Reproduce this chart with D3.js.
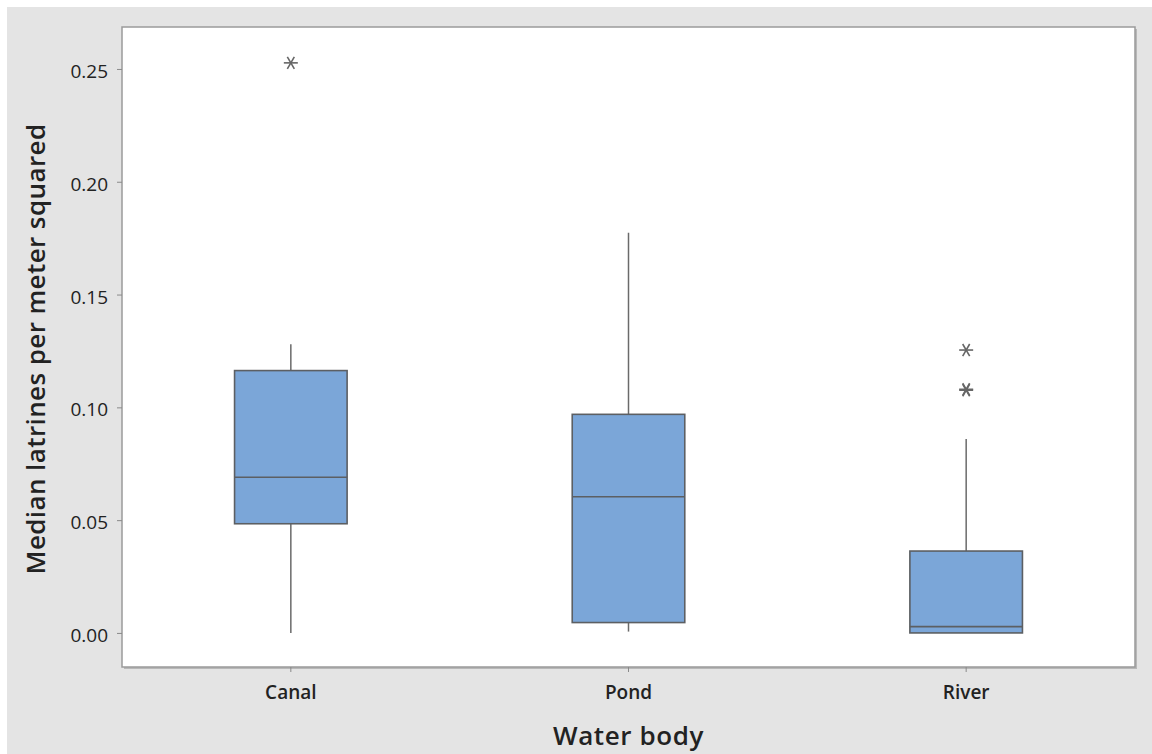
<!DOCTYPE html>
<html>
<head>
<meta charset="utf-8">
<script src="https://cdn.jsdelivr.net/npm/d3@7"></script>
<style>
  html, body { margin: 0; padding: 0; background: #ffffff; }
  svg { display: block; }
  text { font-family: "Open Sans", "Noto Sans", sans-serif; fill: #222; }
</style>
</head>
<body>
<svg id="chart" width="1152" height="754"></svg>
<script>
// Water body categories and their box-plot summaries
const categories = ["Canal", "Pond", "River"];
const whiskerLow  = [0.0000, 0.0006, 0.0000];
const q1          = [0.0484, 0.0046, 0.0000];
const median      = [0.0690, 0.0604, 0.0028];
const q3          = [0.1163, 0.0969, 0.0363];
const whiskerHigh = [0.1280, 0.1774, 0.0860];
// Outliers per category
const outliers = [
  [0.2527],
  [],
  [0.1254, 0.1076, 0.1080]
];
const yTicks = [0.00, 0.05, 0.10, 0.15, 0.20, 0.25];

const svg = d3.select("#chart");
const W = 1152, H = 754;
const frame = { left: 122, top: 27, right: 1135, bottom: 667 };

// Outer gray panel
svg.append("rect").attr("x", 7).attr("y", 7).attr("width", W - 7).attr("height", H - 7)
  .attr("fill", "#e4e4e4");

const x = d3.scaleBand().domain(categories).range([frame.left, frame.right]).padding(0);
const y = d3.scaleLinear().domain([-0.0151, 0.2686]).range([frame.bottom, frame.top]);

// Plot area with a soft shadow on right / bottom edges
svg.append("rect").attr("x", frame.left + 2).attr("y", frame.top + 2)
  .attr("width", frame.right - frame.left).attr("height", frame.bottom - frame.top)
  .attr("fill", "#b8b8b8");
svg.append("rect").attr("x", frame.left).attr("y", frame.top)
  .attr("width", frame.right - frame.left).attr("height", frame.bottom - frame.top)
  .attr("fill", "#ffffff").attr("stroke", "#9a9a9a").attr("stroke-width", 1.5);

// Axes
const yAxis = d3.axisLeft(y).tickValues(yTicks).tickFormat(d3.format(".2f"))
  .tickSize(5).tickPadding(9);
const gy = svg.append("g").attr("transform", `translate(${frame.left},0)`).call(yAxis);
gy.select(".domain").remove();
gy.selectAll(".tick line").attr("stroke", "#8a8a8a");
gy.selectAll(".tick text").style("font-size", "19px").style("font-family", "'Open Sans', sans-serif")
  .attr("dy", "0.45em").attr("fill", "#222");

const xAxis = d3.axisBottom(x).tickSize(5).tickPadding(14);
const gx = svg.append("g").attr("transform", `translate(0,${frame.bottom})`).call(xAxis);
gx.select(".domain").remove();
gx.selectAll(".tick line").attr("stroke", "#8a8a8a");
gx.selectAll(".tick text").style("font-size", "19px").style("font-family", "'Open Sans', sans-serif")
  .style("font-weight", "600").attr("fill", "#222");

// Axis titles
svg.append("text")
  .attr("transform", `translate(45,${(frame.top + frame.bottom) / 2 + 2}) rotate(-90)`)
  .attr("text-anchor", "middle")
  .style("font-size", "26px")
  .style("font-weight", "600")
  .style("letter-spacing", "0.4px")
  .text("Median latrines per meter squared");
svg.append("text")
  .attr("x", (frame.left + frame.right) / 2).attr("y", 745)
  .attr("text-anchor", "middle")
  .style("font-size", "26px")
  .style("font-weight", "600")
  .style("letter-spacing", "0.6px")
  .text("Water body");

// Boxes
const boxW = x.bandwidth() / 3;
const stroke = "#5c5f63";
categories.forEach((c, i) => {
  const cx = x(c) + x.bandwidth() / 2;
  const g = svg.append("g");
  // whiskers
  g.append("line").attr("x1", cx).attr("x2", cx)
    .attr("y1", y(q3[i])).attr("y2", y(whiskerHigh[i]))
    .attr("stroke", "#6a6a6a").attr("stroke-width", 1.5);
  g.append("line").attr("x1", cx).attr("x2", cx)
    .attr("y1", y(q1[i])).attr("y2", y(whiskerLow[i]))
    .attr("stroke", "#6a6a6a").attr("stroke-width", 1.5);
  // box
  g.append("rect").attr("x", cx - boxW / 2).attr("y", y(q3[i]))
    .attr("width", boxW).attr("height", y(q1[i]) - y(q3[i]))
    .attr("fill", "#7ba6d8").attr("stroke", stroke).attr("stroke-width", 1.6);
  // median
  g.append("line").attr("x1", cx - boxW / 2).attr("x2", cx + boxW / 2)
    .attr("y1", y(median[i])).attr("y2", y(median[i]))
    .attr("stroke", stroke).attr("stroke-width", 1.6);
  // outliers as asterisks
  outliers[i].forEach(v => {
    const star = g.append("g").attr("transform", `translate(${cx},${y(v)})`);
    [0, 60, 120].forEach(a => {
      star.append("line")
        .attr("x1", -7).attr("y1", 0).attr("x2", 7).attr("y2", 0)
        .attr("transform", `rotate(${a})`)
        .attr("stroke", "#666").attr("stroke-width", 1.6);
    });
  });
});
</script>
</body>
</html>
